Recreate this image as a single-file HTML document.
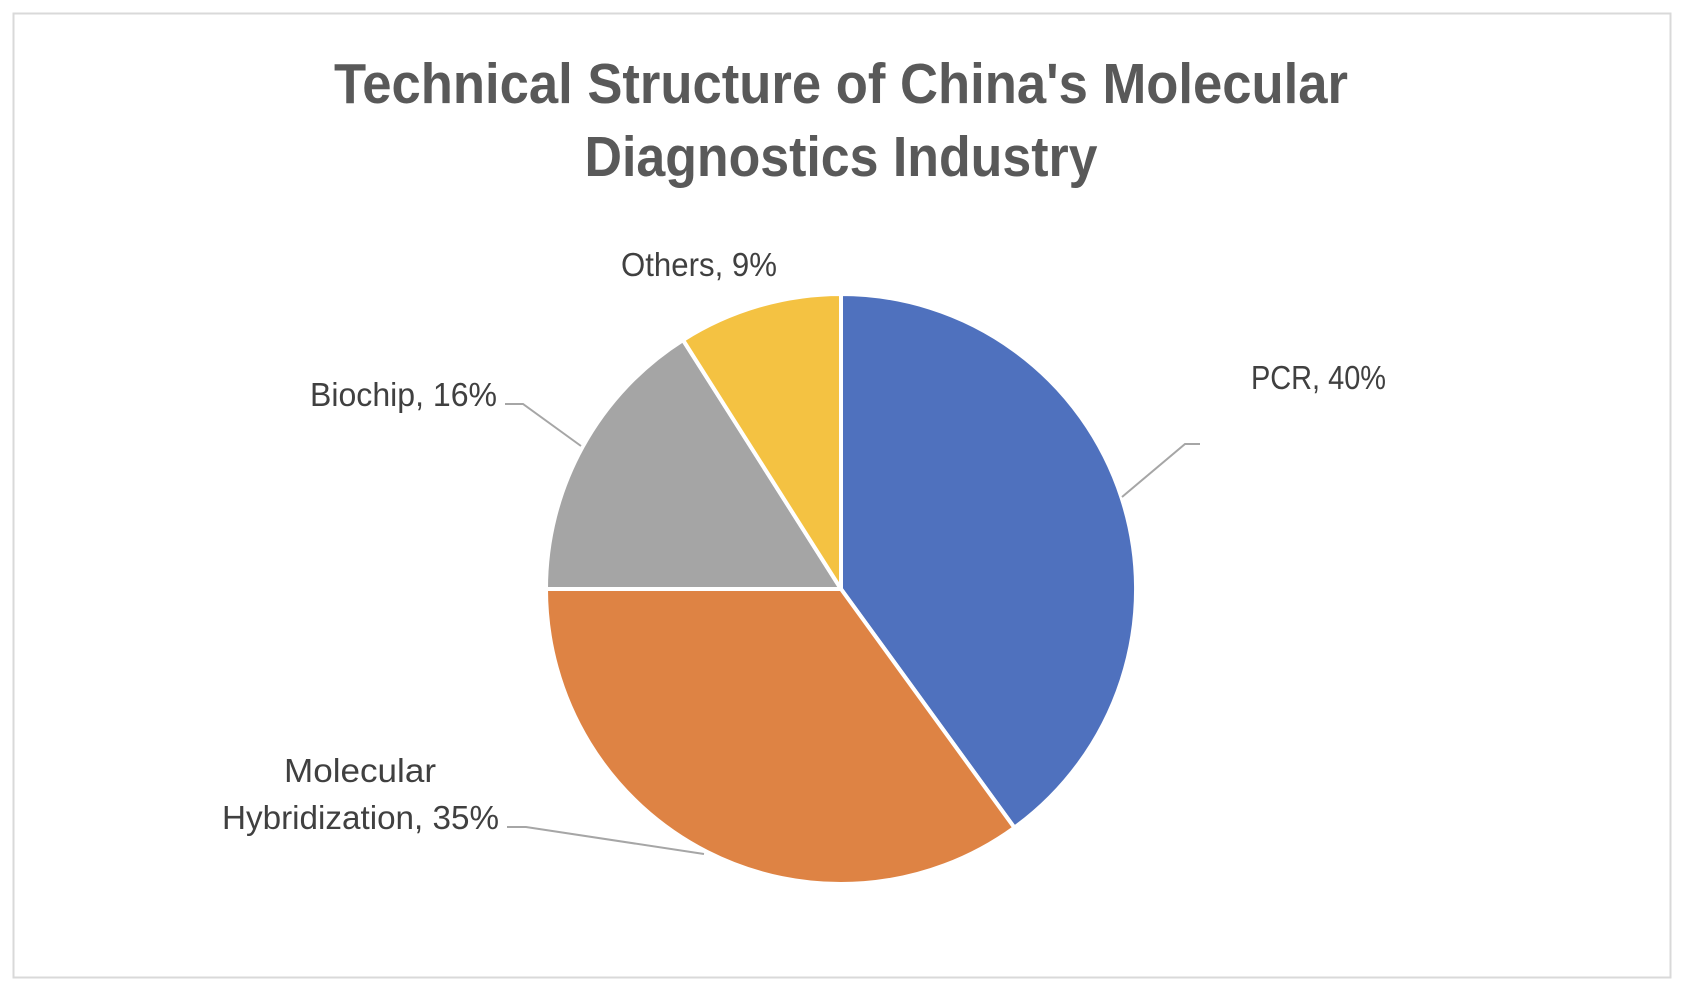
<!DOCTYPE html>
<html><head><meta charset="utf-8"><style>html,body{margin:0;padding:0;background:#fff}</style></head>
<body>
<svg width="1684" height="990" viewBox="0 0 1684 990" xmlns="http://www.w3.org/2000/svg">
<rect x="0" y="0" width="1684" height="990" fill="#fff"/>
<rect x="13.5" y="13.5" width="1657" height="964" fill="#fff" stroke="#d9d9d9" stroke-width="2"/>
<g font-family="Liberation Sans, sans-serif" font-weight="bold" fill="#595959" font-size="57" text-anchor="middle">
<text x="841" y="103" textLength="1014" lengthAdjust="spacingAndGlyphs">Technical Structure of China's Molecular</text>
<text x="841" y="176" textLength="513" lengthAdjust="spacingAndGlyphs">Diagnostics Industry</text>
</g>
<g stroke="#fff" stroke-width="4" stroke-linejoin="round">
<path d="M841,589 L841,294 A295,295 0 0 1 1014.4,827.7 Z" fill="#4F71BE"/>
<path d="M841,589 L1014.4,827.7 A295,295 0 0 1 546,589 Z" fill="#DE8344"/>
<path d="M841,589 L546,589 A295,295 0 0 1 683,340 Z" fill="#A5A5A5"/>
<path d="M841,589 L683,340 A295,295 0 0 1 841,294 Z" fill="#F4C242"/>
</g>
<g fill="none" stroke="#a6a6a6" stroke-width="2">
<polyline points="1200,444 1185,444 1122,497"/>
<polyline points="505,404 523,404 581,446"/>
<polyline points="507,827 526,827 704,854"/>
</g>
<g font-family="Liberation Sans, sans-serif" fill="#404040" font-size="33">
<text x="621" y="276" textLength="156" lengthAdjust="spacingAndGlyphs">Others, 9%</text>
<text x="1251" y="389" textLength="135" lengthAdjust="spacingAndGlyphs">PCR, 40%</text>
<text x="310" y="406" textLength="187" lengthAdjust="spacingAndGlyphs">Biochip, 16%</text>
<text x="284" y="782" textLength="152" lengthAdjust="spacingAndGlyphs">Molecular</text>
<text x="222" y="829" textLength="277" lengthAdjust="spacingAndGlyphs">Hybridization, 35%</text>
</g>
</svg>
</body></html>
